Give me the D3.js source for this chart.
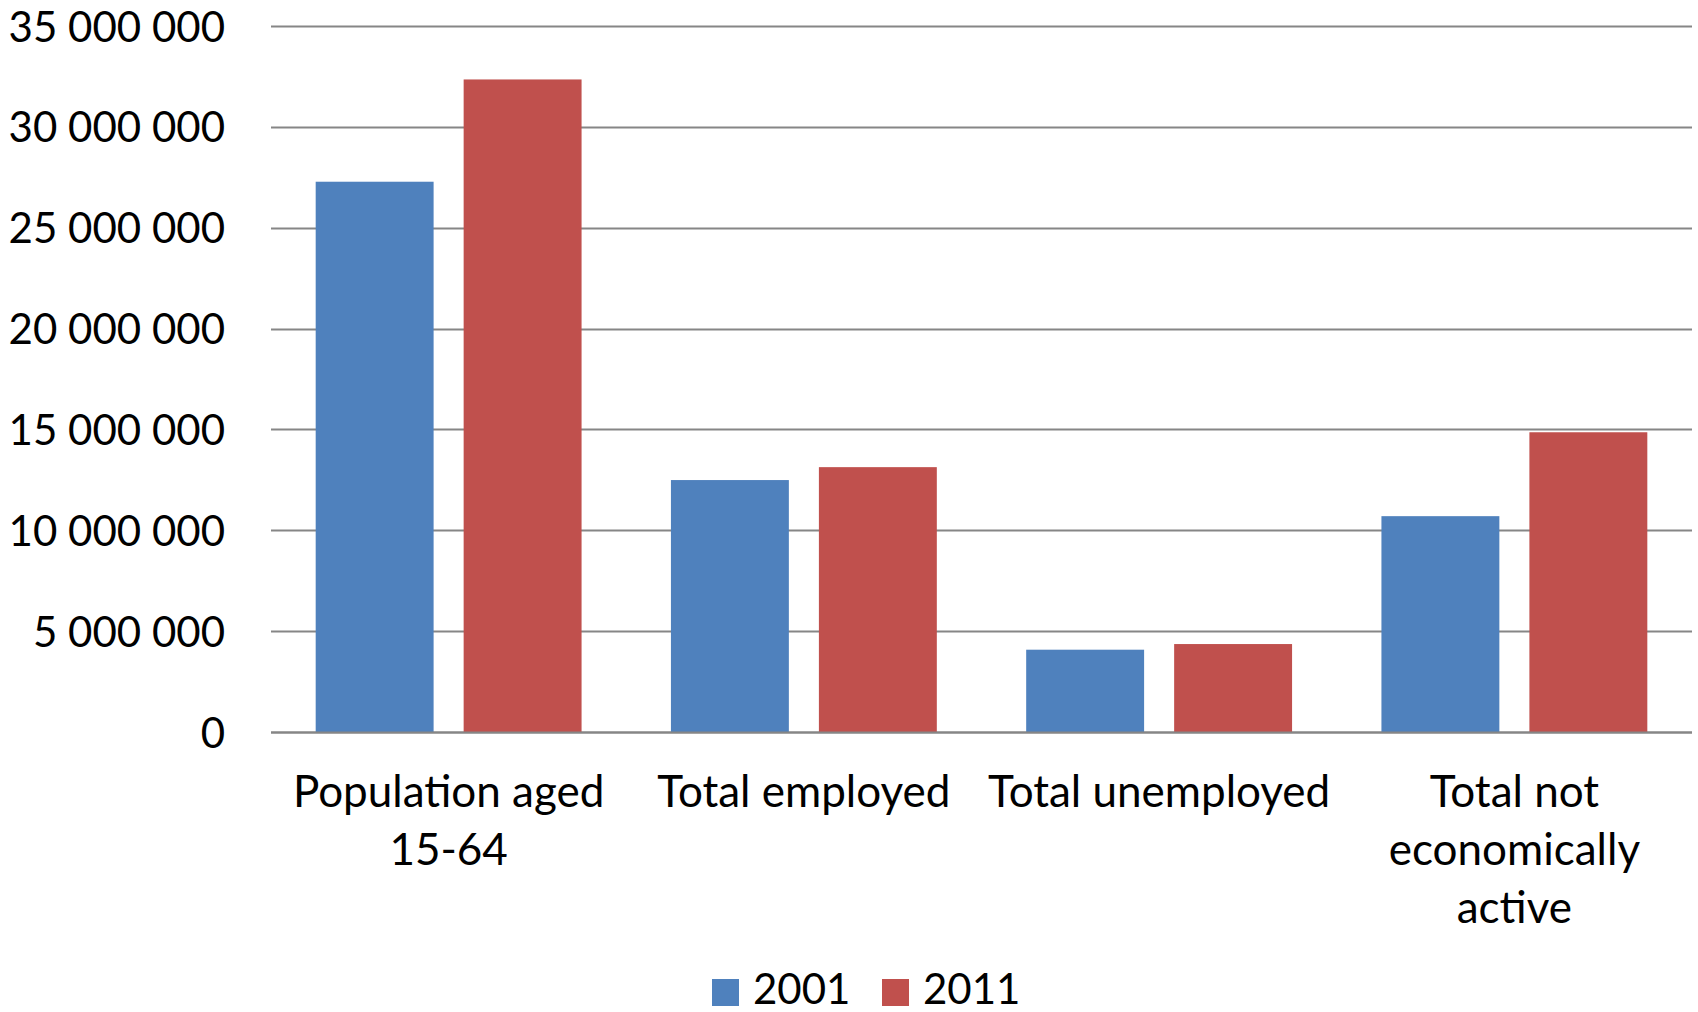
<!DOCTYPE html>
<html>
<head>
<meta charset="utf-8">
<script src="https://cdn.jsdelivr.net/npm/d3@7"></script>
<style>
  html, body { margin: 0; padding: 0; background: #fff; }
  svg text { font-family: Lato, "Open Sans", sans-serif; fill: #000; }
</style>
</head>
<body>
<svg id="chart" width="1698" height="1012"></svg>
<script>
// donnees du graphique
const categories = ["Population aged\n15-64", "Total employed", "Total unemployed", "Total not\neconomically\nactive"];
const seriesNames = ["2001", "2011"];
const values2001 = [27280000, 12490000, 4080000, 10700000];
const values2011 = [32350000, 13130000, 4360000, 14860000];
const yTicks = [0, 5000000, 10000000, 15000000, 20000000, 25000000, 30000000, 35000000];
const colors = ["#4F81BD", "#C0504D"];

const seriesValues = [values2001, values2011];

// zone du graphique
const plotLeft = 271, plotRight = 1692, plotTop = 26, plotBottom = 732;

const svg = d3.select("#chart");

const x0 = d3.scaleBand()
    .domain(categories)
    .range([plotLeft, plotRight])
    .padding(0);

const x1 = d3.scaleBand()
    .domain(seriesNames)
    .range([0, x0.bandwidth()])
    .paddingInner(0.203)
    .paddingOuter(0.302);

const y = d3.scaleLinear()
    .domain([0, 35000000])
    .range([plotBottom, plotTop]);

const fmt = d3.formatLocale({decimal: ",", thousands: " ", grouping: [3], currency: ["", ""]}).format(",d");

// lignes de grille + labels axe Y
const yAxis = d3.axisLeft(y)
    .tickValues(yTicks)
    .tickSize(0)
    .tickPadding(46)
    .tickFormat(fmt);

const yG = svg.append("g")
    .attr("transform", "translate(" + plotLeft + ",0)")
    .call(yAxis);
yG.select(".domain").remove();
yG.selectAll("text")
    .style("font-size", "42px")
    .style("font-family", "Lato, sans-serif")
    .attr("fill", "#000")
    .attr("dy", "0.36em");

svg.append("g").selectAll("line")
    .data(yTicks)
    .enter().append("line")
    .attr("x1", plotLeft)
    .attr("x2", plotRight)
    .attr("y1", d => Math.round(y(d)) + 0.5)
    .attr("y2", d => Math.round(y(d)) + 0.5)
    .attr("stroke", "#868686")
    .attr("stroke-width", 2);

// barres
const groups = svg.append("g").selectAll("g")
    .data(categories)
    .enter().append("g")
    .attr("transform", d => "translate(" + x0(d) + ",0)");

groups.selectAll("rect")
    .data((d, i) => seriesNames.map((s, j) => ({s: s, v: seriesValues[j][i], c: colors[j]})))
    .enter().append("rect")
    .attr("x", d => x1(d.s))
    .attr("width", x1.bandwidth())
    .attr("y", d => y(d.v))
    .attr("height", d => y(0) - y(d.v))
    .attr("fill", d => d.c);

// axe X (ligne du zero par dessus)
svg.append("line")
    .attr("x1", plotLeft).attr("x2", plotRight)
    .attr("y1", Math.round(y(0)) + 0.5).attr("y2", Math.round(y(0)) + 0.5)
    .attr("stroke", "#868686")
    .attr("stroke-width", 2);

// labels des categories
const xLabels = svg.append("g").selectAll("text")
    .data(categories)
    .enter().append("text")
    .attr("text-anchor", "middle")
    .style("font-size", "44px")
    .attr("x", d => x0(d) + x0.bandwidth() / 2)
    .attr("y", 807);

xLabels.selectAll("tspan")
    .data(d => d.split("\n"))
    .enter().append("tspan")
    .attr("x", function() { return this.parentNode.getAttribute("x"); })
    .attr("dy", (d, i) => i === 0 ? 0 : 58)
    .text(d => d);

// legende
const legendX = [712, 882];
const legend = svg.append("g").selectAll("g")
    .data(seriesNames)
    .enter().append("g")
    .attr("transform", (d, i) => "translate(" + legendX[i] + ",979)");

legend.append("rect")
    .attr("width", 27)
    .attr("height", 27)
    .attr("fill", (d, i) => colors[i]);

legend.append("text")
    .attr("x", 41)
    .attr("y", 25)
    .style("font-size", "42px")
    .text(d => d);
</script>
</body>
</html>
